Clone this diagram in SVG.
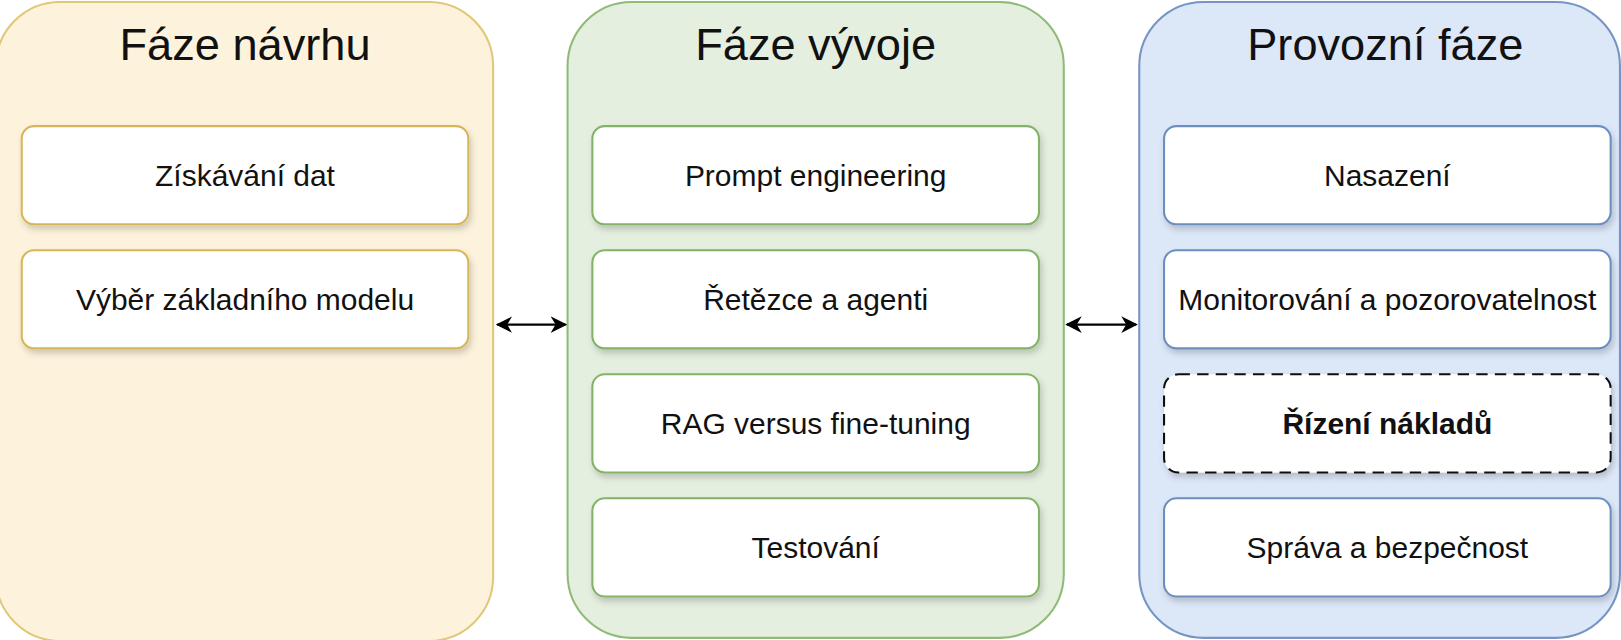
<svg xmlns="http://www.w3.org/2000/svg" width="1621" height="640" viewBox="0 0 1621 640">
<defs>
<filter id="sh" x="-10%" y="-20%" width="120%" height="150%"><feDropShadow dx="2" dy="4" stdDeviation="3" flood-color="#000" flood-opacity="0.18"/></filter>
<marker id="ah" viewBox="0 0 10 10" refX="9" refY="5" markerWidth="8" markerHeight="8" orient="auto-start-reverse"><path d="M0,0 L10,5 L0,10 L3,5 Z" fill="#000"/></marker>
<style>
text{font-family:"Liberation Sans",Arial,sans-serif;fill:#111;text-anchor:middle}
.t{font-size:43.7px}
.l{font-size:29px}
.b{fill:#fff;filter:url(#sh);stroke-width:2}
.y{stroke:#d6b656}.g{stroke:#82b366}.u{stroke:#6c8ebf}
</style>
</defs>
<rect width="1621" height="640" fill="#fff"/>
<g transform="scale(1.0338)">
<g id="p1"><rect x="-4" y="2" width="481" height="618" rx="62" fill="#fdf3dc" stroke="#e0c878" stroke-width="2"/><text class="t" x="237" y="58">Fáze návrhu</text></g>
<g id="p2"><rect x="549" y="2" width="480" height="615" rx="62" fill="#e4efe0" stroke="#8fbb78" stroke-width="2"/><text class="t" x="789" y="58">Fáze vývoje</text></g>
<g id="p3"><rect x="1102" y="2" width="465" height="615" rx="62" fill="#dce7f8" stroke="#7694c4" stroke-width="2"/><text class="t" x="1340" y="58">Provozní fáze</text></g>
<g id="n1"><rect class="b y" x="21" y="122" width="432" height="95" rx="12"/><text class="l" x="237" y="180">Získávání dat</text></g>
<g id="n2"><rect class="b y" x="21" y="242" width="432" height="95" rx="12"/><text class="l" x="237" y="300">Výběr základního modelu</text></g>
<g id="n3"><rect class="b g" x="573" y="122" width="432" height="95" rx="12"/><text class="l" x="789" y="180">Prompt engineering</text></g>
<g id="n4"><rect class="b g" x="573" y="242" width="432" height="95" rx="12"/><text class="l" x="789" y="300">Řetězce a agenti</text></g>
<g id="n5"><rect class="b g" x="573" y="362" width="432" height="95" rx="12"/><text class="l" x="789" y="420">RAG versus fine-tuning</text></g>
<g id="n6"><rect class="b g" x="573" y="482" width="432" height="95" rx="12"/><text class="l" x="789" y="540">Testování</text></g>
<g id="n7"><rect class="b u" x="1126" y="122" width="432" height="95" rx="12"/><text class="l" x="1342" y="180">Nasazení</text></g>
<g id="n8"><rect class="b u" x="1126" y="242" width="432" height="95" rx="12"/><text class="l" x="1342" y="300">Monitorování a pozorovatelnost</text></g>
<g id="n9"><rect class="b" x="1126" y="362" width="432" height="95" rx="14" stroke="#111" stroke-width="4" stroke-dasharray="11 7"/><text class="l" x="1342" y="420" font-weight="bold">Řízení nákladů</text></g>
<g id="n10"><rect class="b u" x="1126" y="482" width="432" height="95" rx="12"/><text class="l" x="1342" y="540">Správa a bezpečnost</text></g>
<g id="connectors" stroke="#000" stroke-width="2">
<line x1="481" y1="314" x2="547" y2="314" marker-start="url(#ah)" marker-end="url(#ah)"/>
<line x1="1032" y1="314" x2="1099" y2="314" marker-start="url(#ah)" marker-end="url(#ah)"/>
</g>
</g>
</svg>
